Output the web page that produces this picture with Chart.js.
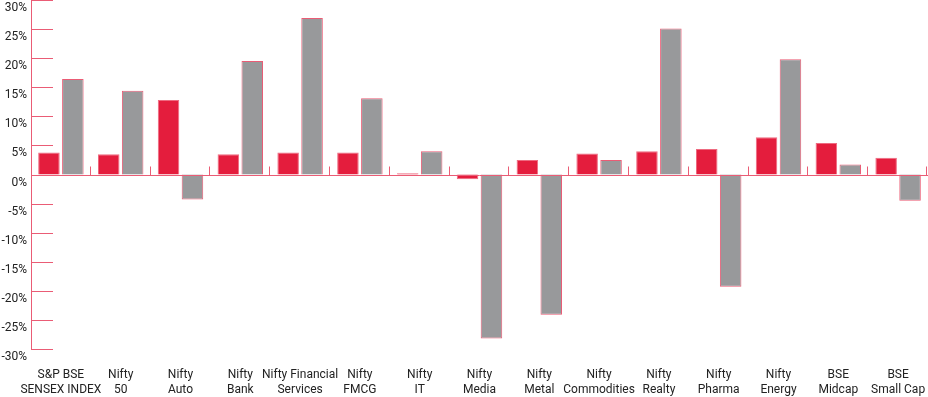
<!DOCTYPE html>
<html>
<head>
<meta charset="utf-8">
<script src="https://cdn.jsdelivr.net/npm/chart.js@4"></script>
<style>
  html, body { margin: 0; padding: 0; background: #fff; }
  #wrap { width: 928px; height: 397px; }
</style>
</head>
<body>
<div id="wrap"><canvas id="c" width="928" height="397"></canvas></div>
<script>
/* index returns vs comparison period, in % */
const categories = [
  ['S&P BSE', 'SENSEX INDEX'], ['Nifty', '50'], ['Nifty', 'Auto'], ['Nifty', 'Bank'],
  ['Nifty Financial', 'Services'], ['Nifty', 'FMCG'], ['Nifty', 'IT'], ['Nifty', 'Media'],
  ['Nifty', 'Metal'], ['Nifty', 'Commodities'], ['Nifty', 'Realty'], ['Nifty', 'Pharma'],
  ['Nifty', 'Energy'], ['BSE', 'Midcap'], ['BSE', 'Small Cap']
];
const redValues  = [3.8, 3.5, 12.8, 3.5, 3.8, 3.8, 0.2, -0.8, 2.5, 3.6, 4.0, 4.4, 6.4, 5.4, 2.9];
const greyValues = [16.4, 14.4, -4.3, 19.5, 26.9, 13.1, 4.0, -28.2, -24.1, 2.5, 25.1, -19.3, 19.8, 1.7, -4.5];
const yTicks = { min: -30, max: 30, step: 5 };

const RED   = '#e41d3d';
const GREY  = '#98999b';
const LINE  = '#ea5c75';
const TEXT  = '#222';

/* short tick stubs on the y axis + zero line with category separators */
const axisMarks = {
  id: 'axisMarks',
  afterDraw(chart) {
    const { ctx, chartArea: a, scales: { x, y } } = chart;
    const n = categories.length;
    const half = (x.getPixelForValue(1) - x.getPixelForValue(0)) / 2;
    ctx.save();
    ctx.strokeStyle = LINE;
    ctx.lineWidth = 1;
    y.ticks.forEach(t => {
      const py = Math.round(y.getPixelForValue(t.value)) + 0.5;
      ctx.beginPath(); ctx.moveTo(a.left, py); ctx.lineTo(a.left + 22, py); ctx.stroke();
    });
    const zy = Math.round(y.getPixelForValue(0)) + 0.5;
    ctx.beginPath(); ctx.moveTo(a.left, zy); ctx.lineTo(a.right, zy); ctx.stroke();
    for (let i = 0; i < n; i++) {
      const px = Math.min(Math.round(x.getPixelForValue(i) + half) - 0.5, a.right - 1.5);
      ctx.beginPath(); ctx.moveTo(px, zy); ctx.lineTo(px, zy - 9); ctx.stroke();
    }
    ctx.restore();
  }
};

new Chart(document.getElementById('c'), {
  type: 'bar',
  data: {
    labels: categories,
    datasets: [
      { data: redValues,  backgroundColor: RED,  borderColor: '#ee6a80', borderWidth: 1 },
      { data: greyValues, backgroundColor: GREY, borderColor: LINE, borderWidth: 1 }
    ]
  },
  options: {
    responsive: false,
    animation: false,
    layout: { padding: 0 },
    plugins: { legend: { display: false }, tooltip: { enabled: false } },
    datasets: { bar: { categoryPercentage: 0.8, barPercentage: 0.9 } },
    scales: {
      x: {
        grid: { display: false, drawTicks: false },
        border: { display: false },
        ticks: {
          color: TEXT, autoSkip: false, maxRotation: 0, padding: 18,
          font: { family: 'Roboto', size: 12, lineHeight: 1.3 }
        },
        afterFit(s) { s.height = 48; s.paddingLeft = 0; s.paddingRight = 0; }
      },
      y: {
        min: yTicks.min, max: yTicks.max,
        grid: { display: false, drawTicks: false },
        border: { display: true, color: LINE, width: 1 },
        ticks: {
          stepSize: yTicks.step, color: TEXT, padding: 4, labelOffset: 8,
          font: { family: 'Roboto', size: 12 },
          callback: v => v + '%'
        },
        afterFit(s) { s.width = 31; s.paddingTop = 0; s.paddingBottom = 0; }
      }
    }
  },
  plugins: [axisMarks]
});
</script>
</body>
</html>
